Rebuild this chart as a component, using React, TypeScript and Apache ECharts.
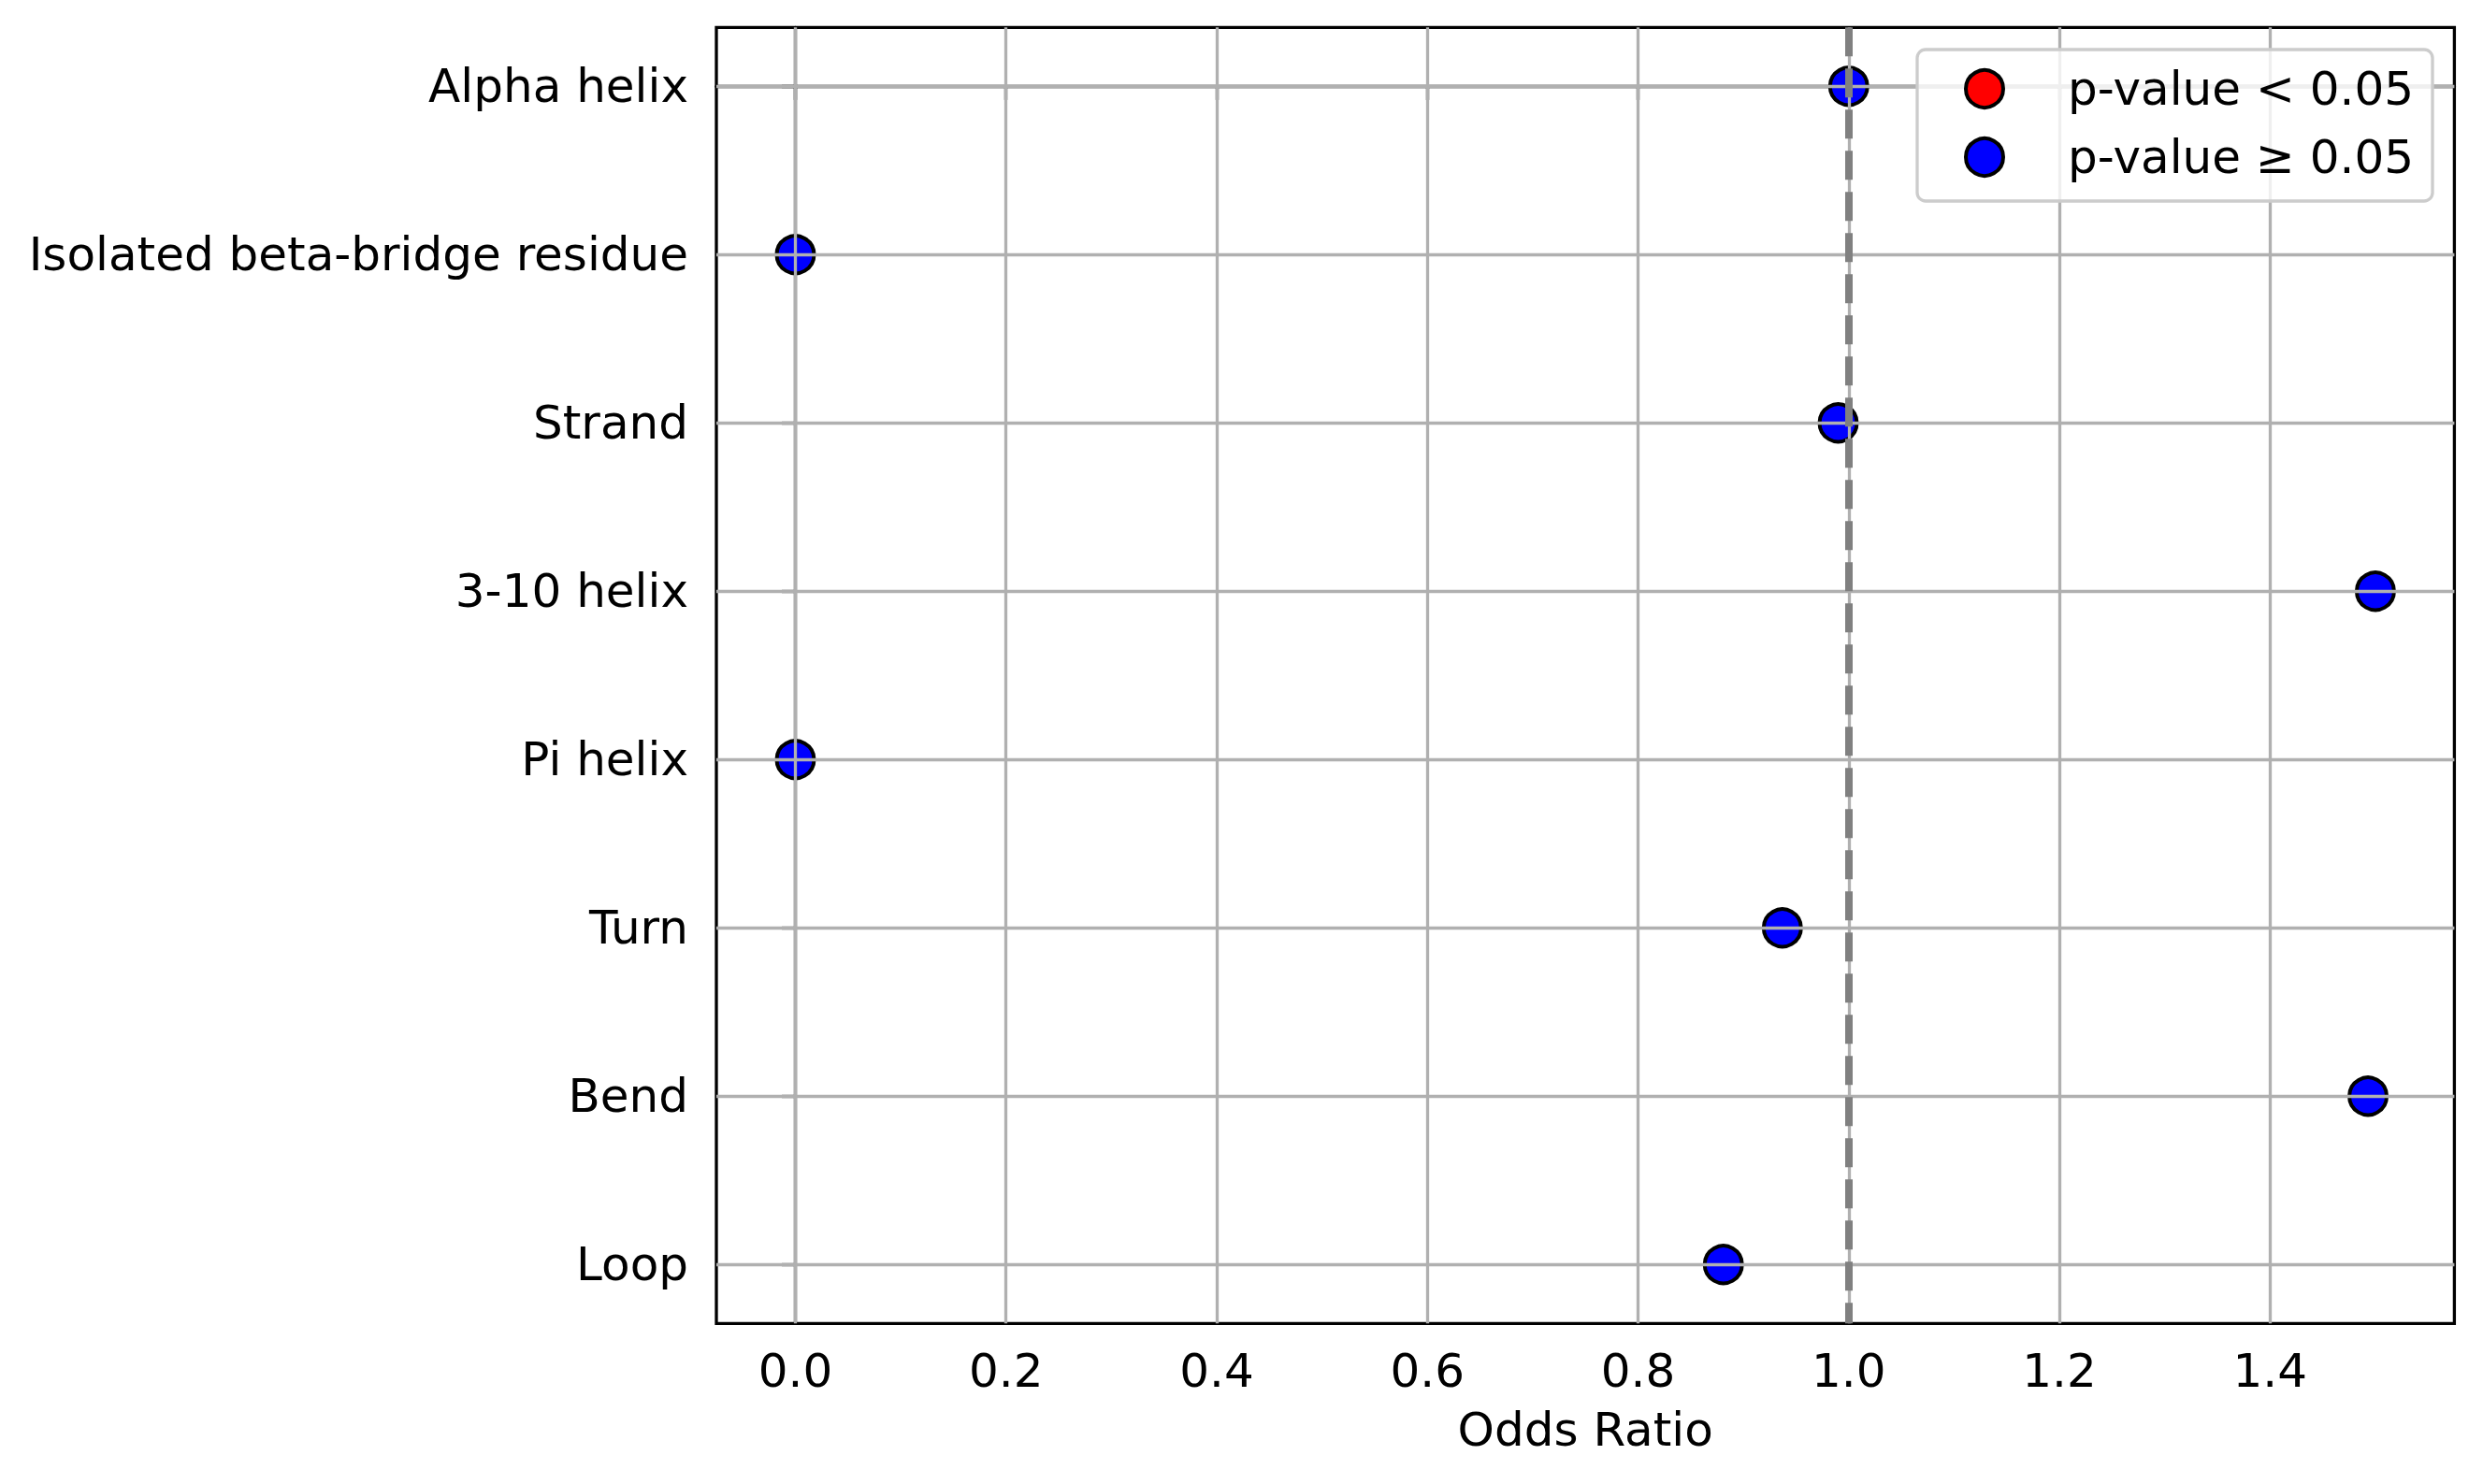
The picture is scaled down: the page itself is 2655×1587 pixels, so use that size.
import React, { useEffect, useRef } from "react";
import * as echarts from "echarts";

const categories = [
  "Alpha helix",
  "Isolated beta-bridge residue",
  "Strand",
  "3-10 helix",
  "Pi helix",
  "Turn",
  "Bend",
  "Loop",
];
const oddsRatios = [1.0, 0.0, 0.99, 1.5, 0.0, 0.937, 1.493, 0.881];
const significant = [false, false, false, false, false, false, false, false];
const xTicks = [0, 0.2, 0.4, 0.6, 0.8, 1.0, 1.2, 1.4];
const yTicks = [0, 1, 2, 3, 4, 5, 6, 7];
const referenceLine = 1.0;
const seriesNames = ["p-value < 0.05", "p-value \u2265 0.05"];
const seriesColors = ["#ff0000", "#0000ff"];
const xRange = [-0.075, 1.575];
const yRange = [-0.35, 7.35];

const FONT = "DejaVu Sans";

export default function App() {
  const ref = useRef<HTMLDivElement>(null);
  useEffect(() => {
    if (!ref.current) return;
    const chart = echarts.init(ref.current, null, { renderer: "svg" });
    const sigData: number[][] = [];
    const nonSigData: number[][] = [];
    oddsRatios.forEach((v, i) => {
      (significant[i] ? sigData : nonSigData).push([v, i]);
    });
    const scatterStyle = (color: string) => ({
      color,
      borderColor: "#000",
      borderWidth: 4,
      opacity: 1,
    });
    chart.setOption({
      animation: false,
      backgroundColor: "#ffffff",
      grid: {
        left: 766,
        top: 29.3,
        width: 1858.4,
        height: 1386,
        show: true,
        borderColor: "#000",
        borderWidth: 3.3,
        backgroundColor: "transparent",
      },
      xAxis: {
        type: "value",
        min: xRange[0],
        max: xRange[1],
        name: "Odds Ratio",
        nameLocation: "middle",
        nameGap: 89,
        nameTextStyle: { fontSize: 50, fontFamily: FONT, color: "#000" },
        axisLine: { show: true, lineStyle: { color: "#000", width: 3.3 } },
        axisTick: {
          show: true,
          length: 14.6,
          customValues: xTicks,
          lineStyle: { color: "#000", width: 3.3 },
        },
        axisLabel: {
          customValues: xTicks,
          fontSize: 50,
          fontFamily: FONT,
          color: "#000",
          margin: 26,
          formatter: (v: number) => v.toFixed(1),
        },
        splitLine: { show: false },
      },
      yAxis: {
        type: "value",
        inverse: true,
        min: yRange[0],
        max: yRange[1],
        axisLine: { show: true, lineStyle: { color: "#000", width: 3.3 } },
        axisTick: {
          show: true,
          length: 14.6,
          customValues: yTicks,
          lineStyle: { color: "#000", width: 3.3 },
        },
        axisLabel: {
          customValues: yTicks,
          fontSize: 50,
          fontFamily: FONT,
          color: "#000",
          margin: 30,
          formatter: (v: number) => categories[Math.round(v)] ?? "",
        },
        splitLine: { show: false },
      },
      legend: {
        orient: "vertical",
        left: 2050,
        top: 53,
        z: 10,
        padding: [17, 20, 22, 50],
        itemWidth: 40,
        itemHeight: 40,
        itemGap: 23,
        icon: "circle",
        backgroundColor: "rgba(255,255,255,0.8)",
        borderColor: "#cccccc",
        borderWidth: 3.3,
        borderRadius: 9,
        itemStyle: { borderColor: "#000", borderWidth: 4 },
        textStyle: {
          fontSize: 50,
          fontFamily: FONT,
          color: "#000",
          padding: [0, 0, 0, 64],
        },
        data: seriesNames,
      },
      series: [
        {
          name: seriesNames[0],
          type: "scatter",
          z: 2,
          symbol: "circle",
          symbolSize: 40,
          itemStyle: scatterStyle(seriesColors[0]),
          data: sigData,
        },
        {
          name: seriesNames[1],
          type: "scatter",
          z: 2,
          symbol: "circle",
          symbolSize: 40,
          itemStyle: scatterStyle(seriesColors[1]),
          data: nonSigData,
        },
        {
          name: "grid",
          type: "line",
          z: 3,
          data: [],
          markLine: {
            silent: true,
            symbol: ["none", "none"],
            label: { show: false },
            emphasis: { disabled: true },
            lineStyle: { color: "#b0b0b0", width: 3.3, type: "solid" },
            data: [
              ...xTicks.map((v) => ({ xAxis: v })),
              ...yTicks.map((v) => ({ yAxis: v })),
            ],
          },
        },
        {
          name: "reference",
          type: "line",
          z: 4,
          data: [],
          markLine: {
            silent: true,
            symbol: ["none", "none"],
            label: { show: false },
            emphasis: { disabled: true },
            lineStyle: {
              color: "#808080",
              width: 8,
              type: [31, 13],
            },
            data: [{ xAxis: referenceLine }],
          },
        },
      ],
    });
    return () => chart.dispose();
  }, []);
  return (
    <div
      ref={ref}
      style={{
        position: "absolute",
        left: 0,
        top: 0,
        width: 2655,
        height: 1587,
        background: "#fff",
      }}
    />
  );
}
